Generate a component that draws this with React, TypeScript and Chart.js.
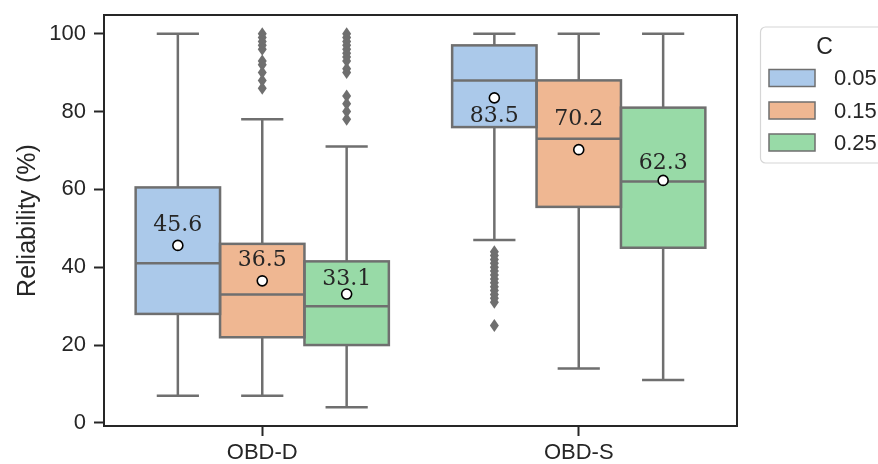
import React, { useEffect, useRef } from 'react';
import { Chart, registerables } from 'chart.js';

Chart.register(...registerables);

// ---- data ----
const categories = ['OBD-D', 'OBD-S'];
const hueLabels = ['0.05', '0.15', '0.25'];
const hueColors = ['#abc9ea', '#efb792', '#98daa7'];

const q1_005 = [28, 76];
const med_005 = [41, 88];
const q3_005 = [60.5, 97];
const whiskLo_005 = [7, 47];
const whiskHi_005 = [100, 100];
const mean_005 = [45.6, 83.5];
const labelY_005 = [50.9, 78.9];
const outliers_005 = [[], [44, 43, 42, 41, 40, 39, 38, 37, 36, 35, 34, 33, 32, 31, 25]];

const q1_015 = [22, 55.5];
const med_015 = [33, 73];
const q3_015 = [46, 88];
const whiskLo_015 = [7, 14];
const whiskHi_015 = [78, 100];
const mean_015 = [36.5, 70.2];
const labelY_015 = [41.9, 77.9];
const outliers_015 = [[100, 99, 98, 97, 96, 93, 92, 90, 88, 86], []];

const q1_025 = [20, 45];
const med_025 = [30, 62];
const q3_025 = [41.5, 81];
const whiskLo_025 = [4, 11];
const whiskHi_025 = [71, 100];
const mean_025 = [33.1, 62.3];
const labelY_025 = [36.8, 66.8];
const outliers_025 = [[100, 99, 98, 97, 96, 95, 94, 93, 91, 90, 84, 82, 80, 78], []];

const yTicks = [0, 20, 40, 60, 80, 100];
const yMin = -0.8;
const yMax = 104.8;

const stats = [
  { q1: q1_005, med: med_005, q3: q3_005, lo: whiskLo_005, hi: whiskHi_005, mean: mean_005, labelY: labelY_005, out: outliers_005 },
  { q1: q1_015, med: med_015, q3: q3_015, lo: whiskLo_015, hi: whiskHi_015, mean: mean_015, labelY: labelY_015, out: outliers_015 },
  { q1: q1_025, med: med_025, q3: q3_025, lo: whiskLo_025, hi: whiskHi_025, mean: mean_025, labelY: labelY_025, out: outliers_025 },
];

const EDGE = '#6f6f6f';
const DARK = '#262626';
const SANS = '"Liberation Sans", Arial, sans-serif';

const boxPlugin = {
  id: 'boxPlugin',
  beforeDatasetsDraw(chart: any) {
    const { ctx } = chart;
    const y = chart.scales.y;
    ctx.save();
    ctx.strokeStyle = EDGE;
    ctx.lineWidth = 2.5;
    chart.data.datasets.forEach((ds: any, di: number) => {
      const meta = chart.getDatasetMeta(di);
      const s = stats[di];
      meta.data.forEach((bar: any, i: number) => {
        const { x, width } = bar.getProps(['x', 'width'], true);
        const capHalf = width / 4;
        const pq1 = y.getPixelForValue(s.q1[i]);
        const pq3 = y.getPixelForValue(s.q3[i]);
        const plo = y.getPixelForValue(s.lo[i]);
        const phi = y.getPixelForValue(s.hi[i]);
        ctx.beginPath();
        ctx.moveTo(x, pq1);
        ctx.lineTo(x, plo);
        ctx.moveTo(x, pq3);
        ctx.lineTo(x, phi);
        ctx.moveTo(x - capHalf, plo);
        ctx.lineTo(x + capHalf, plo);
        ctx.moveTo(x - capHalf, phi);
        ctx.lineTo(x + capHalf, phi);
        ctx.stroke();
      });
    });
    ctx.restore();
  },
  afterDatasetsDraw(chart: any) {
    const { ctx } = chart;
    const y = chart.scales.y;
    ctx.save();
    chart.data.datasets.forEach((ds: any, di: number) => {
      const meta = chart.getDatasetMeta(di);
      const s = stats[di];
      meta.data.forEach((bar: any, i: number) => {
        const { x, width } = bar.getProps(['x', 'width'], true);
        const left = x - width / 2;
        const pq1 = y.getPixelForValue(s.q1[i]);
        const pq3 = y.getPixelForValue(s.q3[i]);
        const pmed = y.getPixelForValue(s.med[i]);
        ctx.strokeStyle = EDGE;
        ctx.lineWidth = 2.5;
        ctx.strokeRect(left, pq3, width, pq1 - pq3);
        ctx.beginPath();
        ctx.moveTo(left, pmed);
        ctx.lineTo(left + width, pmed);
        ctx.stroke();
        ctx.fillStyle = EDGE;
        s.out[i].forEach((v: number) => {
          const py = y.getPixelForValue(v);
          ctx.beginPath();
          ctx.moveTo(x, py - 6.5);
          ctx.lineTo(x + 4.5, py);
          ctx.lineTo(x, py + 6.5);
          ctx.lineTo(x - 4.5, py);
          ctx.closePath();
          ctx.fill();
        });
      });
    });
    chart.data.datasets.forEach((ds: any, di: number) => {
      const meta = chart.getDatasetMeta(di);
      const s = stats[di];
      meta.data.forEach((bar: any, i: number) => {
        const { x } = bar.getProps(['x'], true);
        const pm = y.getPixelForValue(s.mean[i]);
        ctx.beginPath();
        ctx.arc(x, pm, 5, 0, Math.PI * 2);
        ctx.fillStyle = '#ffffff';
        ctx.fill();
        ctx.lineWidth = 1.6;
        ctx.strokeStyle = '#000000';
        ctx.stroke();
      });
    });
    chart.data.datasets.forEach((ds: any, di: number) => {
      const meta = chart.getDatasetMeta(di);
      const s = stats[di];
      meta.data.forEach((bar: any, i: number) => {
        const { x } = bar.getProps(['x'], true);
        const pl = y.getPixelForValue(s.labelY[i]);
        ctx.fillStyle = DARK;
        ctx.font = '22px "DejaVu Serif", serif';
        ctx.textAlign = 'center';
        ctx.textBaseline = 'middle';
        ctx.fillText(s.mean[i].toFixed(1), x, pl);
      });
    });
    ctx.restore();
  },
  afterDraw(chart: any) {
    const { ctx, chartArea } = chart;
    ctx.save();
    ctx.strokeStyle = DARK;
    ctx.lineWidth = 2;
    ctx.strokeRect(chartArea.left, chartArea.top, chartArea.right - chartArea.left, chartArea.bottom - chartArea.top);
    // legend
    const lx = 760.5, ly = 27, lw = 200, lh = 136, r = 5;
    ctx.beginPath();
    ctx.moveTo(lx + r, ly);
    ctx.lineTo(lx + lw - r, ly);
    ctx.arcTo(lx + lw, ly, lx + lw, ly + r, r);
    ctx.lineTo(lx + lw, ly + lh - r);
    ctx.arcTo(lx + lw, ly + lh, lx + lw - r, ly + lh, r);
    ctx.lineTo(lx + r, ly + lh);
    ctx.arcTo(lx, ly + lh, lx, ly + lh - r, r);
    ctx.lineTo(lx, ly + r);
    ctx.arcTo(lx, ly, lx + r, ly, r);
    ctx.closePath();
    ctx.fillStyle = 'rgba(255,255,255,0.8)';
    ctx.fill();
    ctx.strokeStyle = '#d6d6d6';
    ctx.lineWidth = 1.2;
    ctx.stroke();
    ctx.fillStyle = DARK;
    ctx.font = '23px ' + SANS;
    ctx.textAlign = 'center';
    ctx.textBaseline = 'middle';
    ctx.fillText('C', 824.5, 48);
    const rows = [78, 110.5, 142.5];
    hueLabels.forEach((lab, i) => {
      ctx.fillStyle = hueColors[i];
      ctx.fillRect(769, rows[i] - 8.5, 46, 17);
      ctx.strokeStyle = EDGE;
      ctx.lineWidth = 1.5;
      ctx.strokeRect(769, rows[i] - 8.5, 46, 17);
      ctx.fillStyle = DARK;
      ctx.font = '22px ' + SANS;
      ctx.textAlign = 'left';
      ctx.fillText(lab, 834, rows[i] + 1);
    });
    ctx.restore();
  },
};

export default function App() {
  const ref = useRef<HTMLCanvasElement | null>(null);
  useEffect(() => {
    if (!ref.current) return;
    const chart = new Chart(ref.current, {
      type: 'bar',
      data: {
        labels: categories,
        datasets: stats.map((s, di) => ({
          label: hueLabels[di],
          data: categories.map((_, i) => [s.q1[i], s.q3[i]]),
          backgroundColor: hueColors[di],
          borderWidth: 0,
          categoryPercentage: 0.8,
          barPercentage: 1.0,
        })),
      },
      options: {
        responsive: false,
        animation: false,
        devicePixelRatio: 1,
        layout: { padding: { left: 0, top: 15, right: 141, bottom: 0 } },
        plugins: { legend: { display: false }, tooltip: { enabled: false } },
        scales: {
          x: {
            type: 'category',
            offset: true,
            grid: { offset: false, drawOnChartArea: false, drawTicks: true, tickLength: 10, tickColor: DARK, tickWidth: 2 },
            border: { display: false },
            ticks: { color: DARK, font: { size: 22, family: SANS }, padding: 4 },
            afterFit: (s: any) => { s.height = 38; s.paddingLeft = 0; s.paddingRight = 0; },
          },
          y: {
            type: 'linear',
            min: yMin,
            max: yMax,
            grid: { drawOnChartArea: false, drawTicks: true, tickLength: 10, tickColor: DARK, tickWidth: 2 },
            border: { display: false },
            ticks: { color: DARK, font: { size: 22, family: SANS }, padding: 8 },
            afterBuildTicks: (s: any) => { s.ticks = yTicks.map((v) => ({ value: v })); },
            afterFit: (s: any) => { s.width = 104; s.paddingTop = 0; s.paddingBottom = 0; },
            title: { display: true, text: 'Reliability (%)', color: DARK, font: { size: 25, family: SANS }, padding: { top: 13, bottom: 0 } },
          },
        },
      },
      plugins: [boxPlugin],
    });
    return () => chart.destroy();
  }, []);
  return (
    <div style={{ position: 'absolute', left: 0, top: 0, width: 878, height: 464, background: '#fff' }}>
      <canvas ref={ref} width={878} height={464} />
    </div>
  );
}
